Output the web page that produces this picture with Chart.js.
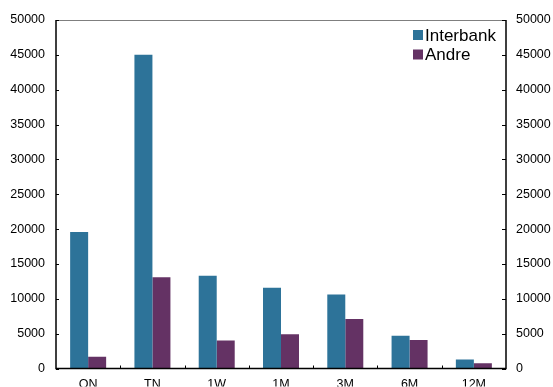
<!DOCTYPE html>
<html>
<head>
<meta charset="utf-8">
<script src="https://cdn.jsdelivr.net/npm/chart.js@4"></script>
<style>
  html, body { margin: 0; padding: 0; background: #fff; }
  #wrap { width: 553px; height: 387px; }
</style>
</head>
<body>
<div id="wrap"><canvas id="c" width="553" height="387"></canvas></div>
<script>
// Maturity buckets
const categories = ['ON', 'TN', '1W', '1M', '3M', '6M', '12M'];
// Volumes per bucket
const interbank = [19600, 45000, 13300, 11600, 10600, 4700, 1300];
const andre = [1700, 13100, 4000, 4900, 7100, 4100, 750];
// Shared value axis
const yMin = 0, yMax = 50000, yStep = 5000;

const FONT = 'Liberation Sans, Arial, sans-serif';
const BLUE = '#2d7399';
const PURPLE = '#643264';

// Frame, inward tick marks and legend
const framePlugin = {
  id: 'frame',
  afterDatasetsDraw(chart) {
    const { ctx, chartArea: a, scales } = chart;
    const y = scales.y, x = scales.x;
    ctx.save();
    ctx.lineWidth = 1;
    // top border
    ctx.strokeStyle = '#7f7f7f';
    ctx.beginPath();
    ctx.moveTo(a.left, a.top + 0.5);
    ctx.lineTo(a.right, a.top + 0.5);
    ctx.stroke();
    // axes
    ctx.strokeStyle = '#000';
    ctx.lineWidth = 1.5;
    ctx.beginPath();
    ctx.moveTo(a.left, a.top);
    ctx.lineTo(a.left, a.bottom);
    ctx.lineTo(a.right, a.bottom);
    ctx.lineTo(a.right, a.top);
    ctx.stroke();
    // value ticks pointing into the plot on both sides
    ctx.lineWidth = 1;
    ctx.beginPath();
    for (let v = yMin; v <= yMax; v += yStep) {
      const py = Math.round(y.getPixelForValue(v)) + 0.5;
      ctx.moveTo(a.left, py); ctx.lineTo(a.left + 3, py);
      ctx.moveTo(a.right, py); ctx.lineTo(a.right - 4, py);
    }
    // category separators on the bottom axis
    for (let i = 1; i < categories.length; i++) {
      const px = Math.round((x.getPixelForValue(i - 1) + x.getPixelForValue(i)) / 2) + 0.5;
      ctx.moveTo(px, a.bottom); ctx.lineTo(px, a.bottom - 3);
    }
    ctx.stroke();
    // legend
    const items = chart.data.datasets;
    ctx.font = '17px ' + FONT;
    ctx.textBaseline = 'middle';
    ctx.textAlign = 'left';
    items.forEach((ds, i) => {
      const cy = 35 + i * 19.5;
      ctx.fillStyle = ds.backgroundColor;
      ctx.fillRect(413, cy - 5, 10, 10);
      ctx.fillStyle = '#000';
      ctx.fillText(ds.label, 425, cy + 1);
    });
    ctx.restore();
  }
};

const plain = v => String(v);

new Chart(document.getElementById('c'), {
  type: 'bar',
  data: {
    labels: categories,
    datasets: [
      { label: 'Interbank', data: interbank, backgroundColor: BLUE, borderWidth: 0 },
      { label: 'Andre', data: andre, backgroundColor: PURPLE, borderWidth: 0 }
    ]
  },
  options: {
    responsive: false,
    animation: false,
    devicePixelRatio: 1,
    layout: { padding: { top: 20, left: 0, right: 0, bottom: 0 } },
    plugins: { legend: { display: false }, tooltip: { enabled: false } },
    datasets: { bar: { categoryPercentage: 0.56, barPercentage: 1.0 } },
    scales: {
      x: {
        grid: { display: false, drawTicks: false },
        border: { display: false },
        ticks: { color: '#000', font: { family: FONT, size: 12.5 }, padding: 9, maxRotation: 0 },
        afterFit(s) { s.height = 18; }
      },
      y: {
        position: 'left',
        min: yMin, max: yMax,
        grid: { display: false, drawTicks: false },
        border: { display: false },
        ticks: { stepSize: yStep, color: '#000', font: { family: FONT, size: 12.5 }, padding: 11, callback: plain },
        afterFit(s) { s.width = 56; }
      },
      y2: {
        position: 'right',
        min: yMin, max: yMax,
        grid: { display: false, drawTicks: false },
        border: { display: false },
        ticks: { stepSize: yStep, color: '#000', font: { family: FONT, size: 12.5 }, padding: 10, callback: plain },
        afterFit(s) { s.width = 47; }
      }
    }
  },
  plugins: [framePlugin]
});
</script>
</body>
</html>
